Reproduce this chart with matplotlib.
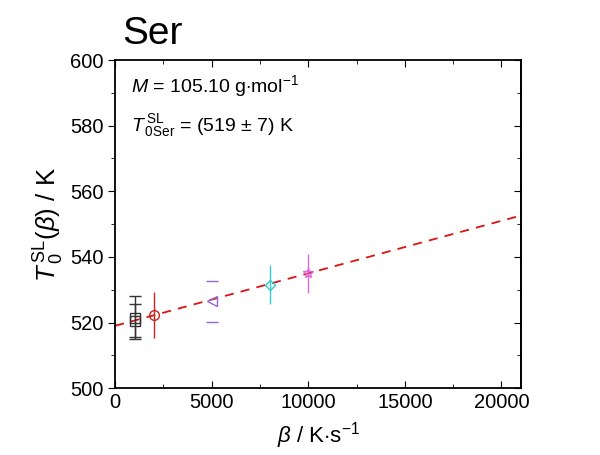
import numpy as np
import matplotlib
matplotlib.use("Agg")
import matplotlib.pyplot as plt

plt.rcParams['font.family'] = ['Liberation Sans', 'DejaVu Sans']
plt.rcParams['mathtext.fontset'] = 'custom'
plt.rcParams['mathtext.rm'] = 'Liberation Sans'
plt.rcParams['mathtext.it'] = 'Liberation Sans:italic'
plt.rcParams['mathtext.bf'] = 'Liberation Sans:bold'

# heating rates (K/s), T0 values (K) and errors
beta = [1000, 1000, 2000, 5000, 8000, 10000]
t0 = [521.5, 520.5, 522.3, 526.5, 531.5, 535.0]
t0_err = [6.5, 5.0, 7.0, 6.2, 6.0, 6.0]
markers = ['s', 's', 'o', '<', 'D', '*']
colours = ['#333333', '#333333', '#cc2222', '#9966cc', '#33cccc', '#dd66dd']
show_line = [True, True, True, False, True, True]
show_caps = [True, True, False, True, False, False]

# linear fit shown in the plot
fit_intercept = 519.0
fit_slope = 0.0016
fit_x = [0, 21000]

fig, ax = plt.subplots(figsize=(6, 4.55), dpi=100)
fig.subplots_adjust(left=0.192, right=0.868, bottom=0.147, top=0.868)

fx = np.array(fit_x)
ax.plot(fx, fit_intercept + fit_slope * fx, ls=(0, (5, 4)), color='#dd1111', lw=1.3, zorder=1)

for x, y, e, m, c, ln, cp in zip(beta, t0, t0_err, markers, colours, show_line, show_caps):
    ax.errorbar(x, y, yerr=e, fmt=m, mfc='none', mec=c, ecolor=c,
                elinewidth=1.0 if ln else 0, capsize=4 if cp else 0,
                capthick=1.0 if ln else 2.0, ms=7 if m != 'D' else 5.5, mew=1.0, zorder=3)

ax.set_xlim(0, 21000)
ax.set_ylim(500, 600)
ax.set_xticks([0, 5000, 10000, 15000, 20000])
ax.set_xticks(np.arange(2500, 21000, 5000), minor=True)
ax.set_yticks(np.arange(500, 601, 20))
ax.set_yticks(np.arange(510, 600, 20), minor=True)
ax.tick_params(axis='both', labelsize=14.5)
ax.tick_params(axis='y', which='both', direction='out', left=True, right=False)
ax.tick_params(axis='x', which='both', direction='in', top=True)
ax.tick_params(which='major', length=5)
ax.tick_params(which='minor', length=3)
for s in ax.spines.values():
    s.set_linewidth(1.3)

# right side ticks point inward
sec = ax.secondary_yaxis('right')
sec.set_yticks(np.arange(500, 601, 20))
sec.set_yticks(np.arange(510, 600, 20), minor=True)
sec.tick_params(which='both', direction='in', labelright=False)
sec.tick_params(which='major', length=5)
sec.tick_params(which='minor', length=3)
sec.spines['right'].set_linewidth(1.3)

ax.set_xlabel(r'$\beta$ / K$\cdot$s$^{-1}$', fontsize=16, labelpad=6)
ax.set_ylabel(r'$T_{\,0}^{\,\mathrm{SL}}(\beta)$ / K', fontsize=18.5, labelpad=3)

ax.text(0.04, 0.92, r'$M$ = 105.10 g$\cdot$mol$^{-1}$', transform=ax.transAxes, fontsize=14, va='center')
ax.text(0.04, 0.80, r'$T_{\,\mathrm{0Ser}}^{\,\mathrm{SL}}$ = (519 $\pm$ 7) K', transform=ax.transAxes, fontsize=14, va='center')

fig.text(0.203, 0.925, 'Ser', fontsize=28, va='center')

plt.savefig('out.png', dpi=100)
